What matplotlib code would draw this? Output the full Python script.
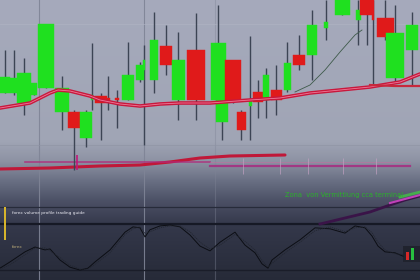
import numpy as np
import matplotlib
matplotlib.use("Agg")
import matplotlib.pyplot as plt

# ---- data (price units) ----
cx = [5, 14, 24, 34, 46, 62, 74, 86, 92, 101, 108, 117, 128, 140, 144, 154, 166, 178, 196,
      218, 222, 233, 241, 250, 258, 266, 276, 287, 299, 312, 326, 342, 358, 367, 373, 385, 395, 412]
c_open = [187, 187, 177, 185, 192, 168, 168, 142, 180, 184, 182, 182, 180, 200, 210, 200, 234, 180, 230,
          180, 158, 220, 168, 174, 188, 180, 190, 190, 225, 225, 252, 265, 260, 280, 265, 262, 202, 230]
c_close = [203, 202, 207, 197, 256, 192, 152, 168, 185, 177, 178, 180, 205, 215, 220, 240, 215, 220, 180,
           237, 180, 180, 150, 180, 178, 205, 180, 217, 215, 255, 258, 280, 270, 265, 260, 243, 247, 255]
c_high = [230, 230, 222, 197, 256, 204, 170, 170, 237, 187, 204, 190, 238, 218, 235, 268, 255, 248, 267,
          275, 180, 220, 170, 244, 200, 212, 215, 238, 245, 270, 280, 280, 280, 280, 280, 280, 275, 268]
c_low = [187, 185, 165, 185, 192, 150, 110, 133, 170, 140, 170, 152, 180, 198, 135, 187, 205, 160, 160,
         180, 140, 177, 140, 140, 162, 162, 165, 188, 210, 200, 240, 265, 235, 235, 195, 240, 198, 195]
c_width = [10, 8, 14, 6, 16, 14, 12, 12, 2, 12, 4, 4, 12, 8, 2, 8, 12, 13, 18,
           15, 12, 16, 9, 3, 10, 6, 11, 7, 12, 10, 4, 15, 5, 14, 2, 17, 18, 12]

ma_x = [0, 30, 50, 58, 70, 90, 100, 120, 140, 160, 180, 210, 250, 280, 310, 340, 370, 400, 420]
ma_y = [172, 177, 187, 190, 189, 184, 180, 176, 174, 176, 177, 177, 180, 182, 187, 190, 193, 198, 206]

ma2_x = [370, 395, 420]
ma2_y = [195, 194, 194]

thin_x = [295, 310, 325, 340, 355, 362]
thin_y = [188, 195, 210, 228, 245, 250]

low_x = [0, 50, 100, 140, 170, 200, 230, 285]
low_y = [111, 112, 114, 115, 118, 122, 124, 125]

mag1_x = [25, 210]
mag1_y = [118, 118]
mag2_x = [210, 410]
mag2_y = [114, 114]

purp_x = [320, 345, 370, 390, 405, 420]
purp_y = [56, 62, 68, 75, 80, 84]
mag3_x = [390, 405, 420]
mag3_y = [77, 81, 85]

osc_x = [0, 10, 25, 35, 45, 50, 60, 70, 80, 88, 95, 110, 125, 133, 140, 145, 150, 160, 170, 180, 190,
         200, 210, 220, 235, 245, 255, 262, 268, 272, 285, 300, 315, 330, 345, 355, 365, 372, 378,
         385, 395, 403]
osc_a = [8, 21, 42, 52, 46, 48, 25, 10, 4, 8, 21, 46, 83, 94, 92, 73, 88, 96, 98, 94, 77,
         54, 44, 62, 83, 56, 40, 17, 8, 25, 46, 67, 92, 90, 81, 96, 92, 75, 54,
         42, 40, 33]
osc_b = [6, 15, 36, 50, 50, 44, 30, 14, 6, 6, 16, 40, 78, 90, 94, 80, 84, 92, 96, 96, 84,
         62, 48, 56, 78, 64, 46, 24, 10, 18, 40, 62, 86, 94, 84, 92, 94, 82, 62,
         46, 38, 36]

title_text = "forex volume profile trading guide"
label_text = "forex"
green_text = "Zona  von Vermittlung cca terminal"

# ---- figure ----
fig = plt.figure(figsize=(4.2, 2.8), dpi=100)
ax = fig.add_axes([0, 0, 1, 1])
ax.set_xlim(0, 420)
ax.set_ylim(0, 280)
ax.axis("off")

# background gradient (top of image = price 280)
stops_y = [0, 140, 160, 180, 200, 225, 280]
stops_c = np.array([[166, 170, 188], [160, 165, 181], [142, 147, 164], [106, 112, 132],
                    [76, 81, 102], [52, 56, 74], [38, 42, 56]]) / 255.0
ys = np.arange(280)
grad = np.stack([np.interp(ys, stops_y, stops_c[:, k]) for k in range(3)], axis=1)
img = np.repeat(grad[:, None, :], 4, axis=1)
ax.imshow(img, extent=[0, 420, 0, 280], aspect="auto", origin="upper", zorder=0,
          interpolation="bilinear")

# grid lines
for gx, a in [(39, 0.9), (144, 0.9), (215, 0.4)]:
    ax.axvline(gx, color="#7f8496", lw=0.8, alpha=a, zorder=1)
ax.axhline(256, color="#b0b4c4", lw=0.6, alpha=0.7, zorder=1)
ax.axhline(135, color="#8e93a4", lw=0.6, alpha=0.7, zorder=1)
ax.axhline(73, color="#272b3a", lw=0.9, zorder=1)
ax.axhline(56, color="#161925", lw=1.6, zorder=1)
ax.axhline(10, color="#1a1d29", lw=1.0, zorder=1)

# lower lines
ax.plot(low_x, low_y, color="#c01838", lw=2.2, zorder=2, solid_capstyle="round")
ax.plot(mag1_x, mag1_y, color="#b02a7a", lw=1.2, alpha=0.8, zorder=2)
ax.plot(mag2_x, mag2_y, color="#a82a80", lw=1.6, alpha=0.85, zorder=2)
ax.plot(mag2_x, [118, 118], color="#c86aa0", lw=0.6, alpha=0.6, zorder=2)
for tx in [243, 280, 308, 343, 376]:
    ax.vlines(tx, 106, 122, color="#c0a0c0", lw=0.7, alpha=0.7, zorder=2)

# candles
up_col = "#1fe01f"
dn_col = "#e01a1a"
ax.vlines(cx, c_low, c_high, color="#3c4454", lw=1.0, zorder=3)
for x, o, c, w in zip(cx, c_open, c_close, c_width):
    col = up_col if c >= o else dn_col
    ax.bar(x, max(abs(c - o), 1.5), bottom=min(o, c), width=w, color=col,
           edgecolor=col, lw=0.3, zorder=4)
ax.vlines([77], [110], [125], color="#c0187a", lw=1.2, zorder=4)

# moving averages
ax.plot(ma_x, ma_y, color="#c8183c", lw=2.6, zorder=5, solid_capstyle="round")
ax.plot(ma_x, ma_y, color="#ee7a9a", lw=0.6, zorder=5)
ax.plot(ma2_x, ma2_y, color="#c8283c", lw=1.6, zorder=5)
ax.plot(thin_x, thin_y, color="#3e5a4a", lw=0.6, zorder=5)

# purple trend line and green text
ax.plot(purp_x, purp_y, color="#3a1448", lw=2.0, zorder=5)
ax.plot(mag3_x, mag3_y, color="#c040b8", lw=1.5, zorder=5)
ax.plot([400, 420], [83, 88], color="#40d040", lw=2.0, alpha=0.7, zorder=5)
ax.text(285, 85, green_text, color="#2cb02c", fontsize=4.8,
        va="center", ha="left", zorder=6)

# yellow bar and labels
ax.bar(5, 33, bottom=40, width=2.2, color="#d6b42c", zorder=6)
ax.text(12, 67, title_text, color="#e8e8f0", fontsize=3.1, va="center", ha="left", zorder=6)
ax.text(12, 33, label_text, color="#b8a878", fontsize=3.1, va="center", ha="left", zorder=6)

# icon bottom right
ax.bar(411.5, 16, bottom=18, width=17, color="#20232e", zorder=6)
ax.bar(407.5, 8, bottom=20, width=3, color="#d82828", zorder=7)
ax.bar(412.5, 12, bottom=20, width=3, color="#28c040", zorder=7)

# oscillator panel
ax2 = fig.add_axes([0, 8 / 280, 1, 48 / 280])
ax2.set_xlim(0, 420)
ax2.set_ylim(0, 100)
ax2.axis("off")
ax2.patch.set_alpha(0)
ax2.plot(osc_x, osc_a, color="#0c0e14", lw=0.7, zorder=3)
ax2.plot(osc_x, osc_b, color="#222630", lw=0.6, ls=(0, (1.5, 1)), zorder=3)

fig.savefig("out.png", dpi=100)
